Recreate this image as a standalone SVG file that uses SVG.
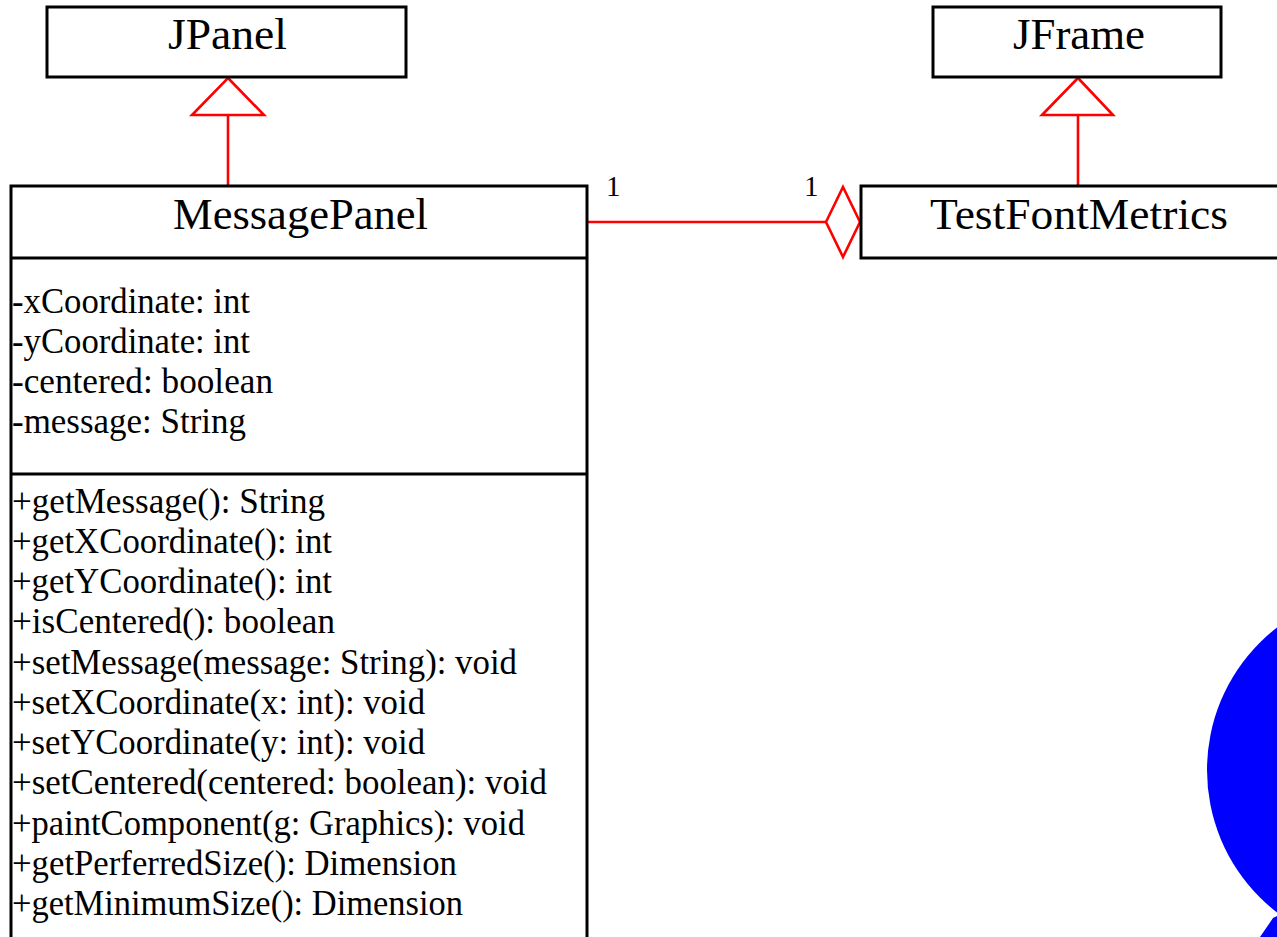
<svg xmlns="http://www.w3.org/2000/svg" width="1277" height="937" viewBox="0 0 1277 937">
  <style>
    .box { fill: #ffffff; stroke: #000000; stroke-width: 3; }
    .sep { stroke: #000000; stroke-width: 3; }
    .rel { fill: none; stroke: #ff0000; stroke-width: 2.6; }
    .head { fill: #ffffff; stroke: #ff0000; stroke-width: 2.6; stroke-linejoin: miter; }
    .title { font-family: "Liberation Serif", "Times New Roman", serif; font-size: 44px; fill: #000000; }
    .member { font-family: "Liberation Serif", "Times New Roman", serif; font-size: 36px; fill: #000000; }
    .mult { font-family: "Liberation Serif", "Times New Roman", serif; font-size: 29px; fill: #000000; }
  </style>

  <rect width="1277" height="937" fill="#ffffff"/>

  <!-- Decorative blue disc at right edge -->
  <g id="disc">
    <circle cx="1387" cy="770" r="180" fill="#0000ff"/>
    <polygon points="1260,937 1273,918 1277,916 1277,937" fill="#0000ff"/>
  </g>

  <!-- Connectors -->
  <g id="connectors">
    <!-- MessagePanel extends JPanel -->
    <line class="rel" x1="228" y1="186" x2="228" y2="115"/>
    <polygon class="head" points="228,78 264,115 192,115"/>
    <!-- TestFontMetrics extends JFrame -->
    <line class="rel" x1="1078" y1="186" x2="1078" y2="115"/>
    <polygon class="head" points="1078,78 1113,115 1042,115"/>
    <!-- Aggregation MessagePanel to TestFontMetrics -->
    <line class="rel" x1="587" y1="222" x2="826" y2="222"/>
    <polygon class="head" points="826,222 843,187 860,222 843,257"/>
    <text class="mult" x="606" y="196">1</text>
    <text class="mult" x="804" y="196">1</text>
  </g>

  <!-- JPanel -->
  <g id="jpanel">
    <rect class="box" x="47" y="7" width="359" height="70"/>
    <text class="title" x="168" y="49" textLength="119" lengthAdjust="spacingAndGlyphs">JPanel</text>
  </g>

  <!-- JFrame -->
  <g id="jframe">
    <rect class="box" x="933" y="7" width="288" height="70"/>
    <text class="title" x="1013" y="49" textLength="132" lengthAdjust="spacingAndGlyphs">JFrame</text>
  </g>

  <!-- TestFontMetrics -->
  <g id="testfontmetrics">
    <rect class="box" x="861" y="186" width="430" height="72"/>
    <text class="title" x="930" y="229" textLength="298" lengthAdjust="spacingAndGlyphs">TestFontMetrics</text>
  </g>

  <!-- MessagePanel -->
  <g id="messagepanel">
    <rect class="box" x="11" y="186" width="576" height="780"/>
    <line class="sep" x1="11" y1="258" x2="587" y2="258"/>
    <line class="sep" x1="11" y1="474" x2="587" y2="474"/>
    <text class="title" x="173" y="229" textLength="255" lengthAdjust="spacingAndGlyphs">MessagePanel</text>

    <text class="member" x="12" y="313" textLength="238" lengthAdjust="spacingAndGlyphs">-xCoordinate: int</text>
    <text class="member" x="12" y="353" textLength="238" lengthAdjust="spacingAndGlyphs">-yCoordinate: int</text>
    <text class="member" x="12" y="393" textLength="261" lengthAdjust="spacingAndGlyphs">-centered: boolean</text>
    <text class="member" x="12" y="433" textLength="234" lengthAdjust="spacingAndGlyphs">-message: String</text>

    <text class="member" x="12" y="513" textLength="313" lengthAdjust="spacingAndGlyphs">+getMessage(): String</text>
    <text class="member" x="12" y="553" textLength="320" lengthAdjust="spacingAndGlyphs">+getXCoordinate(): int</text>
    <text class="member" x="12" y="593" textLength="320" lengthAdjust="spacingAndGlyphs">+getYCoordinate(): int</text>
    <text class="member" x="12" y="633" textLength="323" lengthAdjust="spacingAndGlyphs">+isCentered(): boolean</text>
    <text class="member" x="12" y="674" textLength="505" lengthAdjust="spacingAndGlyphs">+setMessage(message: String): void</text>
    <text class="member" x="12" y="714" textLength="413" lengthAdjust="spacingAndGlyphs">+setXCoordinate(x: int): void</text>
    <text class="member" x="12" y="754" textLength="413" lengthAdjust="spacingAndGlyphs">+setYCoordinate(y: int): void</text>
    <text class="member" x="12" y="794" textLength="535" lengthAdjust="spacingAndGlyphs">+setCentered(centered: boolean): void</text>
    <text class="member" x="12" y="835" textLength="513" lengthAdjust="spacingAndGlyphs">+paintComponent(g: Graphics): void</text>
    <text class="member" x="12" y="875" textLength="445" lengthAdjust="spacingAndGlyphs">+getPerferredSize(): Dimension</text>
    <text class="member" x="12" y="915" textLength="451" lengthAdjust="spacingAndGlyphs">+getMinimumSize(): Dimension</text>
  </g>
</svg>
